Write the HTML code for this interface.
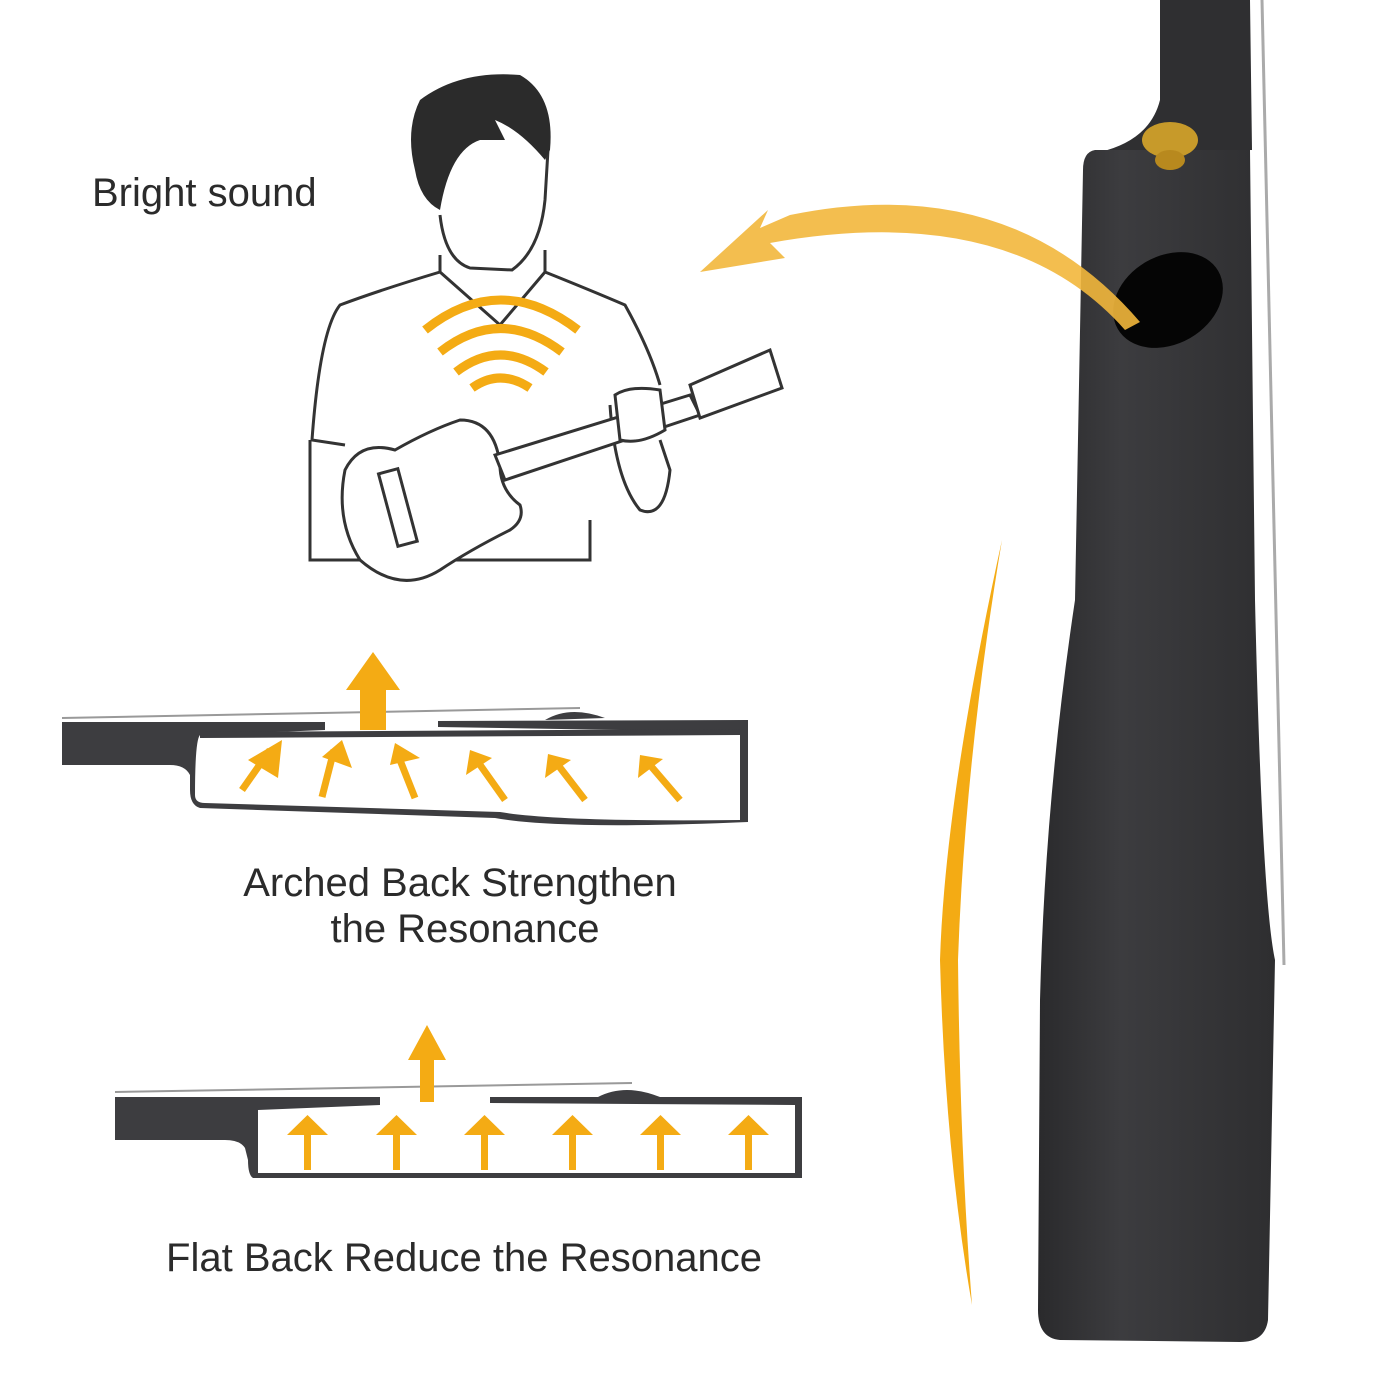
<!DOCTYPE html>
<html><head><style>
body{margin:0;background:#fff}
svg{display:block}
text{font-family:"Liberation Sans",sans-serif;fill:#2b2b2b}
</style></head><body>
<svg width="1400" height="1400" viewBox="0 0 1400 1400" xmlns="http://www.w3.org/2000/svg">
<defs>
<linearGradient id="body" x1="0" x2="1" y1="0" y2="0">
<stop offset="0" stop-color="#2a2a2c"/><stop offset="0.35" stop-color="#3c3c3f"/><stop offset="1" stop-color="#2e2e30"/>
</linearGradient>
</defs>
<line x1="1262" y1="0" x2="1284" y2="965" stroke="#aaa" stroke-width="3"/>
<path d="M1160 0 L1250 0 L1252 150 L1100 152 Q1150 140 1160 100 Z" fill="#2f2f31"/>
<path d="M1085 150 L1250 150 L1255 600 Q1262 900 1275 960 L1268 1320 Q1265 1342 1240 1342 L1060 1340 Q1038 1338 1038 1310 L1040 1000 Q1045 800 1075 600 L1083 170 Q1083 152 1095 150 Z" fill="url(#body)"/>
<ellipse cx="1168" cy="300" rx="58" ry="44" transform="rotate(-30 1168 300)" fill="#050505"/>
<ellipse cx="1170" cy="140" rx="28" ry="18" fill="#c79a2a"/>
<ellipse cx="1170" cy="160" rx="15" ry="10" fill="#b8891e"/>
<path d="M1140 322 Q1010 170 790 215 L760 228 L768 210 L700 272 L785 258 L770 243 Q1010 200 1125 330 Z" fill="#f2b73c" opacity="0.9"/>
<path d="M1002 540 Q945 800 940 960 Q945 1150 972 1305 Q960 1150 958 960 Q965 760 1002 540 Z" fill="#f4ab14"/>
<g fill="none" stroke="#333" stroke-width="3">
<path d="M440 215 Q445 260 470 268 L512 270 Q540 250 545 200 L548 150"/>
<path d="M440 255 L440 272 Q380 290 340 305 Q320 330 312 440 L345 445"/>
<path d="M545 250 L545 272 Q590 290 625 305 Q650 350 660 385"/>
<path d="M310 440 L310 560 L590 560 L590 520"/>
<path d="M440 272 L500 325 L545 272"/>
<path d="M610 405 Q615 480 640 510 Q665 520 670 470 L660 440"/>
<path d="M395 450 Q360 440 345 470 Q335 520 360 560 Q400 595 440 570 Q470 550 510 530 Q525 520 520 505 Q500 490 500 465 Q495 420 460 420 Q430 430 395 450 Z" fill="#fff"/>
<path d="M495 455 L690 395 L700 415 L505 480 Z" fill="#fff"/>
<path d="M690 385 L770 350 L782 388 L700 418 Z" fill="#fff"/>
<path d="M615 395 Q630 385 660 390 L665 430 Q640 445 620 440 Z" fill="#fff"/>
<rect x="388" y="470" width="20" height="75" transform="rotate(-15 398 508)"/>
</g>
<path d="M420 100 Q460 70 520 75 Q555 95 550 150 L545 160 Q520 130 495 120 L505 140 L480 140 Q450 150 440 210 Q420 200 415 170 Q405 130 420 100 Z" fill="#2b2b2b"/>
<g fill="none" stroke="#f4ab14" stroke-width="9">
<path d="M425 330 Q500 270 578 330"/>
<path d="M440 352 Q500 305 562 352"/>
<path d="M456 372 Q500 338 546 372"/>
<path d="M472 388 Q500 368 530 388"/>
</g>
<path d="M62 722 L325 722 L325 730 L200 735 Q195 740 195 795 Q195 803 205 803 L500 812 Q560 822 740 820 L740 732 L438 727 L438 721 L748 720 L748 822 Q560 830 495 818 L200 808 Q190 805 190 790 L190 775 Q185 765 170 765 L62 765 Z" fill="#3d3d40"/>
<path d="M200 735 L740 732" stroke="#3d3d40" stroke-width="6"/>
<line x1="62" y1="718" x2="580" y2="708" stroke="#999" stroke-width="2"/>
<path d="M545 720 Q570 705 605 718 Z" fill="#3d3d40"/>
<path d="M360 730 L386 730 L386 690 L400 690 L373 652 L346 690 L360 690 Z" fill="#f4ab14"/>
<g stroke="#f4ab14" stroke-width="7" fill="none">
<line x1="242" y1="790" x2="270" y2="750"/><line x1="322" y1="797" x2="334" y2="750"/><line x1="415" y1="798" x2="398" y2="755"/>
<line x1="505" y1="800" x2="478" y2="762"/><line x1="585" y1="800" x2="558" y2="765"/><line x1="680" y1="800" x2="650" y2="765"/>
</g>
<g fill="#f4ab14">
<path d="M248 760 L282 740 L278 778 Z"/><path d="M322 757 L342 740 L352 768 Z"/><path d="M390 765 L395 743 L420 758 Z"/>
<path d="M466 775 L470 750 L492 758 Z"/><path d="M545 778 L548 754 L571 760 Z"/><path d="M638 778 L640 755 L663 759 Z"/>
</g>
<path d="M115 1097 L380 1097 L380 1105 L258 1110 L258 1173 L795 1173 L795 1105 L490 1103 L490 1097 L802 1097 L802 1178 L253 1178 Q248 1175 248 1160 L245 1148 Q240 1140 225 1140 L115 1140 Z" fill="#3d3d40"/>
<line x1="115" y1="1092" x2="632" y2="1083" stroke="#999" stroke-width="2"/>
<path d="M598 1097 Q625 1083 660 1097 Z" fill="#3d3d40"/>
<path d="M420 1102 L434 1102 L434 1060 L446 1060 L427 1025 L408 1060 L420 1060 Z" fill="#f4ab14"/>
<g fill="#f4ab14">
<path d="M304 1170 L311 1170 L311 1135 L328 1135 L307.5 1115 L287 1135 L304 1135 Z"/>
<path d="M393 1170 L400 1170 L400 1135 L417 1135 L396.5 1115 L376 1135 L393 1135 Z"/>
<path d="M481 1170 L488 1170 L488 1135 L505 1135 L484.5 1115 L464 1135 L481 1135 Z"/>
<path d="M569 1170 L576 1170 L576 1135 L593 1135 L572.5 1115 L552 1135 L569 1135 Z"/>
<path d="M657 1170 L664 1170 L664 1135 L681 1135 L660.5 1115 L640 1135 L657 1135 Z"/>
<path d="M745 1170 L752 1170 L752 1135 L769 1135 L748.5 1115 L728 1135 L745 1135 Z"/>
</g>
<text x="92" y="206" font-size="40">Bright sound</text>
<text x="460" y="896" font-size="40" text-anchor="middle">Arched Back Strengthen</text>
<text x="465" y="942" font-size="40" text-anchor="middle">the Resonance</text>
<text x="464" y="1271" font-size="40" text-anchor="middle">Flat Back Reduce the Resonance</text>
</svg>
</body></html>
